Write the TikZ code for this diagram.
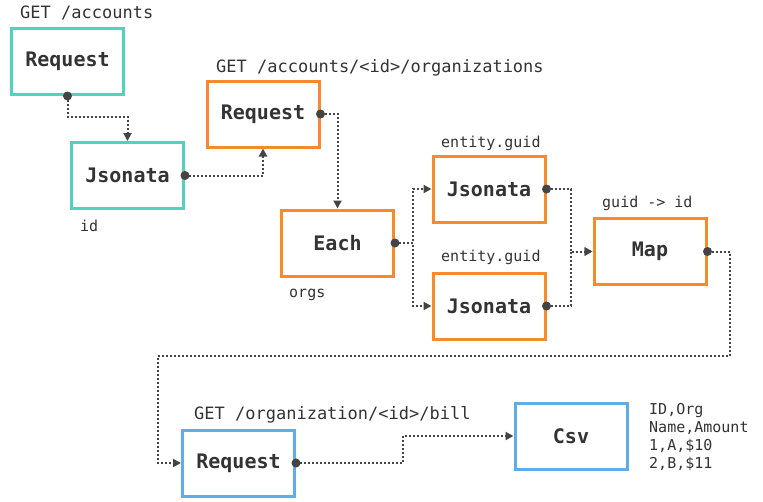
\documentclass[tikz,border=0pt]{standalone}
\usepackage{fontspec}
\setmonofont{DejaVu Sans Mono}
\usetikzlibrary{arrows.meta}
\definecolor{tealc}{RGB}{77,211,190}
\definecolor{orangec}{RGB}{249,138,43}
\definecolor{bluec}{RGB}{92,173,236}
\definecolor{inkc}{RGB}{51,51,51}
\definecolor{linec}{RGB}{68,68,68}
\begin{document}
\begin{tikzpicture}[x=1pt,y=-1pt,
  box/.style={draw, line width=3pt, minimum width=112pt, minimum height=66pt, inner sep=0pt,
    font=\ttfamily\bfseries\fontsize{20}{24}\selectfont, text=inkc},
  lbl/.style={font=\ttfamily\fontsize{17}{20}\selectfont, text=inkc, anchor=base west, inner sep=0pt},
  slbl/.style={font=\ttfamily\fontsize{15}{18}\selectfont, text=inkc, anchor=base west, inner sep=0pt},
  conn/.style={draw=linec, line width=2pt, dash pattern=on 2pt off 2pt,
    -{Triangle[length=8pt,width=8pt]}},
  dot/.style={fill=linec},
]
\useasboundingbox (0,0) rectangle (763,501);
\fill[white] (0,0) rectangle (763,501);

% boxes
\node[box, draw=tealc] (r1) at (67.5,61.5) {Request};
\node[box, draw=tealc] (j1) at (127.5,175.5) {Jsonata};
\node[box, draw=orangec] (r2) at (263,114) {Request};
\node[box, draw=orangec] (ea) at (337.5,243) {Each};
\node[box, draw=orangec] (ja) at (489,189) {Jsonata};
\node[box, draw=orangec] (jb) at (489,306) {Jsonata};
\node[box, draw=orangec] (mp) at (650,251.5) {Map};
\node[box, draw=bluec] (rb) at (238.5,463) {Request};
\node[box, draw=bluec] (cv) at (571,436) {Csv};

% labels
\node[lbl] (l1) at (20,18) {GET /accounts};
\node[lbl] (l2) at (216,72) {GET /accounts/<id>/organizations};
\node[slbl] (l3) at (80,231) {id};
\node[slbl] (l4) at (289,297) {orgs};
\node[slbl] (l5) at (441,147) {entity.guid};
\node[slbl] (l6) at (441,261) {entity.guid};
\node[slbl] (l7) at (602,207) {guid -> id};
\node[lbl] (l8) at (194,419) {GET /organization/<id>/bill};
\node[slbl] (c1) at (649,414) {ID,Org};
\node[slbl] (c2) at (649,432) {Name,Amount};
\node[slbl] (c3) at (649,450) {1,A,\$10};
\node[slbl] (c4) at (649,468) {2,B,\$11};

% connectors
\coordinate (turn) at (158,356);
\draw[conn] (r1.south) -- ++(0,21) -| (j1.north);
\draw[conn] (j1.east) -| (r2.south);
\draw[conn] (r2.east) -| (ea.north);
\draw[conn] (ea.east) -- ++(18,0) |- (ja.west);
\draw[conn] (ea.east) -- ++(18,0) |- (jb.west);
\draw[conn] (ja.east) -- ++(24,0) |- (mp.west);
\draw[conn] (jb.east) -- ++(24,0) |- (mp.west);
\draw[conn] (mp.east) -- ++(22,0) |- (turn) |- (rb.west);
\draw[conn] (rb.east) -- ++(107,0) |- (cv.west);

% start dots
\foreach \p in {r1.south, j1.east, r2.east, ea.east, ja.east, jb.east, mp.east, rb.east}
  \fill[dot] (\p) circle (4.5pt);
\end{tikzpicture}
\end{document}
